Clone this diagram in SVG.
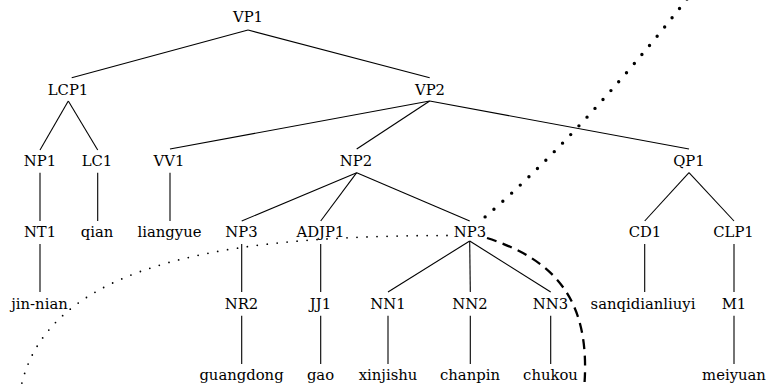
<svg xmlns="http://www.w3.org/2000/svg" width="766" height="388" viewBox="0 0 766 388">
<style>
.e{stroke:#000;stroke-width:1.1;fill:none}
.dot1{stroke:#000;stroke-width:1.8;fill:none;stroke-linecap:round;stroke-dasharray:0 10}
.dot2{stroke:#000;stroke-width:3.4;fill:none;stroke-linecap:round;stroke-dasharray:0 11.9}
.dash{stroke:#000;stroke-width:2.3;fill:none;stroke-dasharray:10 6.5}
</style>
<rect width="766" height="388" fill="#fff"/>
<g id="connectors">
<line class="e" x1="248" y1="30" x2="71.7" y2="77.7"/>
<line class="e" x1="248" y1="30" x2="429.7" y2="77.7"/>
<line class="e" x1="68.3" y1="101" x2="40" y2="150"/>
<line class="e" x1="68.3" y1="101" x2="97.7" y2="150"/>
<line class="e" x1="429.7" y1="101" x2="170" y2="149"/>
<line class="e" x1="429.7" y1="101" x2="356.7" y2="149"/>
<line class="e" x1="429.7" y1="101" x2="689" y2="149"/>
<line class="e" x1="40" y1="172.7" x2="40" y2="221"/>
<line class="e" x1="97.7" y1="172.7" x2="97.7" y2="221"/>
<line class="e" x1="170" y1="172.7" x2="170" y2="221"/>
<line class="e" x1="356.7" y1="172.7" x2="241.7" y2="221"/>
<line class="e" x1="356.7" y1="172.7" x2="320.7" y2="221"/>
<line class="e" x1="356.7" y1="172.7" x2="469.7" y2="221"/>
<line class="e" x1="689" y1="172.7" x2="644.7" y2="221"/>
<line class="e" x1="689" y1="172.7" x2="734" y2="221"/>
<line class="e" x1="40" y1="244" x2="40" y2="292"/>
<line class="e" x1="241.7" y1="244" x2="241.7" y2="292"/>
<line class="e" x1="320.7" y1="244" x2="320.7" y2="292"/>
<line class="e" x1="469.7" y1="241" x2="388" y2="292"/>
<line class="e" x1="469.7" y1="241" x2="470.3" y2="292"/>
<line class="e" x1="469.7" y1="241" x2="550.7" y2="292"/>
<line class="e" x1="644.7" y1="244" x2="644.7" y2="292"/>
<line class="e" x1="734" y1="244" x2="734" y2="292"/>
<line class="e" x1="241.7" y1="315.7" x2="241.7" y2="364"/>
<line class="e" x1="320.7" y1="315.7" x2="320.7" y2="364"/>
<line class="e" x1="388" y1="315.7" x2="388" y2="364"/>
<line class="e" x1="470.3" y1="315.7" x2="470.3" y2="364"/>
<line class="e" x1="550.7" y1="315.7" x2="550.7" y2="364"/>
<line class="e" x1="734" y1="315.7" x2="734" y2="364"/>
<path class="dot2" d="M687,-1 Q580,135 485,217"/>
<path class="dot1" d="M447,235.5 C260,236 45,252 20,392"/>
<path class="dash" d="M487,238 C555,260 592,300 584,390"/>
</g>
<g font-family="DejaVu Serif, Noto Serif, serif" font-size="14.8" text-anchor="middle" fill="#000">
<g id="VP1"><text x="248" y="21.7">VP1</text></g>
<g id="LCP1"><text x="68" y="95">LCP1</text></g>
<g id="VP2"><text x="430" y="95">VP2</text></g>
<g id="NP1"><text x="40" y="165.5">NP1</text></g>
<g id="LC1"><text x="97" y="165.5">LC1</text></g>
<g id="VV1"><text x="169" y="165.5">VV1</text></g>
<g id="NP2"><text x="356" y="165.5">NP2</text></g>
<g id="QP1"><text x="689" y="165.5">QP1</text></g>
<g id="NT1"><text x="40" y="237">NT1</text></g>
<g id="qian"><text x="97" y="237">qian</text></g>
<g id="liangyue"><text x="169.5" y="237">liangyue</text></g>
<g id="NP3a"><text x="241.5" y="237">NP3</text></g>
<g id="ADJP1"><text x="320.5" y="237">ADJP1</text></g>
<g id="NP3b"><text x="470" y="237">NP3</text></g>
<g id="CD1"><text x="645" y="237">CD1</text></g>
<g id="CLP1"><text x="733.5" y="237">CLP1</text></g>
<g id="jin-nian"><text x="39.5" y="308.5">jin-nian</text></g>
<g id="NR2"><text x="241.5" y="308.5">NR2</text></g>
<g id="JJ1"><text x="320.5" y="308.5">JJ1</text></g>
<g id="NN1"><text x="388" y="308.5">NN1</text></g>
<g id="NN2"><text x="470" y="308.5">NN2</text></g>
<g id="NN3"><text x="550.5" y="308.5">NN3</text></g>
<g id="sanqidianliuyi"><text x="643" y="308.5">sanqidianliuyi</text></g>
<g id="M1"><text x="734" y="308.5">M1</text></g>
<g id="guangdong"><text x="241.5" y="380">guangdong</text></g>
<g id="gao"><text x="320.5" y="380">gao</text></g>
<g id="xinjishu"><text x="388" y="380">xinjishu</text></g>
<g id="chanpin"><text x="470" y="380">chanpin</text></g>
<g id="chukou"><text x="550.5" y="380">chukou</text></g>
<g id="meiyuan"><text x="734" y="380">meiyuan</text></g>
</g>
</svg>
